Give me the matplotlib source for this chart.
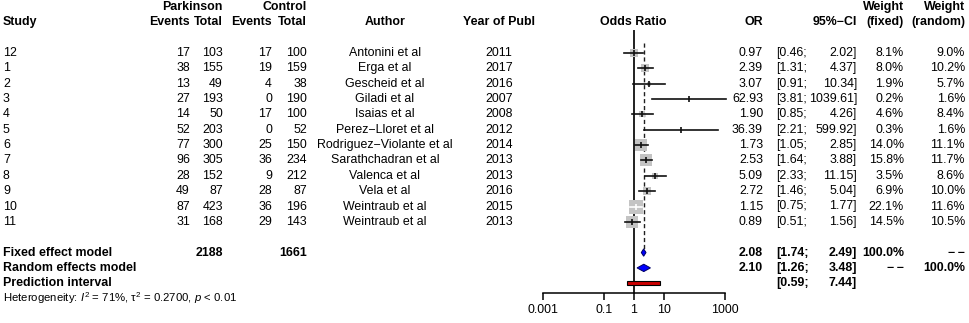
import numpy as np
import matplotlib.pyplot as plt

plt.rcParams['font.family'] = ['Liberation Sans', 'DejaVu Sans']
plt.rcParams['mathtext.fontset'] = 'custom'
plt.rcParams['mathtext.rm'] = 'Liberation Sans'
plt.rcParams['mathtext.it'] = 'Liberation Sans:italic'

# ---- data ----
study = ["12", "1", "2", "3", "4", "5", "6", "7", "8", "9", "10", "11"]
pd_events = [17, 38, 13, 27, 14, 52, 77, 96, 28, 49, 87, 31]
pd_total = [103, 155, 49, 193, 50, 203, 300, 305, 152, 87, 423, 168]
ct_events = [17, 19, 4, 0, 17, 0, 25, 36, 9, 28, 36, 29]
ct_total = [100, 159, 38, 190, 100, 52, 150, 234, 212, 87, 196, 143]
author = ["Antonini et al", "Erga et al", "Gescheid et al", "Giladi et al",
          "Isaias et al", "Perez\u2212Lloret et al", "Rodriguez\u2212Violante et al",
          "Sarathchadran et al", "Valenca et al", "Vela et al",
          "Weintraub et al", "Weintraub et al"]
year = [2011, 2017, 2016, 2007, 2008, 2012, 2014, 2013, 2013, 2016, 2015, 2013]
odds = [0.97, 2.39, 3.07, 62.93, 1.90, 36.39, 1.73, 2.53, 5.09, 2.72, 1.15, 0.89]
lower = [0.46, 1.31, 0.91, 3.81, 0.85, 2.21, 1.05, 1.64, 2.33, 1.46, 0.75, 0.51]
upper = [2.02, 4.37, 10.34, 1039.61, 4.26, 599.92, 2.85, 3.88, 11.15, 5.04, 1.77, 1.56]
w_fixed = [8.1, 8.0, 1.9, 0.2, 4.6, 0.3, 14.0, 15.8, 3.5, 6.9, 22.1, 14.5]
w_random = [9.0, 10.2, 5.7, 1.6, 8.4, 1.6, 11.1, 11.7, 8.6, 10.0, 11.6, 10.5]

fixed_or, fixed_lo, fixed_hi = 2.08, 1.74, 2.49
random_or, random_lo, random_hi = 2.10, 1.26, 3.48
pred_lo, pred_hi = 0.59, 7.44
pd_sum, ct_sum = 2188, 1661

ticks = [0.001, 0.1, 1, 10, 1000]
tick_labels = ["0.001", "0.1", "1", "10", "1000"]

# ---- layout ----
W, H = 969, 323
row0, step = 53, 15.35
ylim = ((H - row0) / step, -row0 / step)
fs = 8.9
dash = "\u2212\u2009\u2212"
fig = plt.figure(figsize=(W / 100, H / 100), dpi=100)
ax = fig.add_axes([0, 0, 1, 1])
ax.set_xlim(0, W)
ax.set_ylim(*ylim)
ax.axis('off')


def txt(x, y, s, ha='right', bold=False, size=fs):
    ax.text(x, y, s, ha=ha, va='center', fontsize=size,
            fontweight='bold' if bold else 'normal')


# headers
txt(223, -3, "Parkinson", bold=True)
txt(307, -3, "Control", bold=True)
txt(904, -3, "Weight", bold=True)
txt(965, -3, "Weight", bold=True)
txt(3, -2, "Study", ha='left', bold=True)
txt(190, -2, "Events", bold=True)
txt(223, -2, "Total", bold=True)
txt(272, -2, "Events", bold=True)
txt(307, -2, "Total", bold=True)
txt(385, -2, "Author", ha='center', bold=True)
txt(499, -2, "Year of Publ", ha='center', bold=True)
txt(633, -2, "Odds Ratio", ha='center', bold=True)
txt(763, -2, "OR", bold=True)
txt(857, -2, "95%\u2212CI", bold=True)
txt(904, -2, "(fixed)", bold=True)
txt(965, -2, "(random)", bold=True)

for i in range(len(study)):
    txt(3, i, study[i], ha='left')
    txt(190, i, str(pd_events[i]))
    txt(223, i, str(pd_total[i]))
    txt(272, i, str(ct_events[i]))
    txt(307, i, str(ct_total[i]))
    txt(385, i, author[i], ha='center')
    txt(499, i, str(year[i]), ha='center')
    txt(763, i, f"{odds[i]:.2f}")
    txt(776, i, f"[{lower[i]:.2f};", ha='left')
    txt(857, i, f"{upper[i]:.2f}]")
    txt(904, i, f"{w_fixed[i]:.1f}%")
    txt(965, i, f"{w_random[i]:.1f}%")

yf, yr, yp, yh = 13, 14, 15, 16
txt(3, yf, "Fixed effect model", ha='left', bold=True)
txt(223, yf, str(pd_sum), bold=True)
txt(307, yf, str(ct_sum), bold=True)
txt(763, yf, f"{fixed_or:.2f}", bold=True)
txt(776, yf, f"[{fixed_lo:.2f};", ha='left', bold=True)
txt(857, yf, f"{fixed_hi:.2f}]", bold=True)
txt(904, yf, "100.0%", bold=True)
txt(965, yf, dash, bold=True)

txt(3, yr, "Random effects model", ha='left', bold=True)
txt(763, yr, f"{random_or:.2f}", bold=True)
txt(776, yr, f"[{random_lo:.2f};", ha='left', bold=True)
txt(857, yr, f"{random_hi:.2f}]", bold=True)
txt(904, yr, dash, bold=True)
txt(965, yr, "100.0%", bold=True)

txt(3, yp, "Prediction interval", ha='left', bold=True)
txt(776, yp, f"[{pred_lo:.2f};", ha='left', bold=True)
txt(857, yp, f"{pred_hi:.2f}]", bold=True)

txt(3, yh, r"Heterogeneity: $I^2$ = 71%, τ$^2$ = 0.2700, $p$ < 0.01",
    ha='left', size=8.2)

# ---- forest panel ----
x0, x1 = 543, 725
fa = fig.add_axes([x0 / W, 0, (x1 - x0) / W, 1])
fa.set_xscale('log')
fa.set_xlim(1e-3, 1e3)
fa.set_ylim(*ylim)
fa.patch.set_visible(False)
for s in ['top', 'left', 'right']:
    fa.spines[s].set_visible(False)
axis_y = (292.5 - row0) / step
fa.spines['bottom'].set_position(('data', axis_y))
fa.spines['bottom'].set_linewidth(1.1)
fa.set_xticks(ticks)
fa.set_xticklabels(tick_labels, fontsize=fs)
fa.minorticks_off()
fa.tick_params(axis='x', direction='out', length=5.2, width=1.1, pad=3)
fa.set_yticks([])

fa.plot([1, 1], [(31 - row0) / step, axis_y], color='#202020', lw=1.4)
fa.plot([fixed_or, fixed_or], [(43 - row0) / step, 12.75], color='#202020',
        lw=1.0, linestyle=(0, (3, 2)))

px_per_dec = (x1 - x0) / 6.0
for i in range(len(study)):
    side = 3.0 * np.sqrt(w_fixed[i])
    fa.scatter([odds[i]], [i], marker='s', s=(side * 0.72) ** 2,
               color='#c4c4c4', linewidths=0, zorder=2, clip_on=False)
    ci_px = px_per_dec * (np.log10(upper[i]) - np.log10(lower[i]))
    col = 'white' if ci_px < 0.85 * side else '#101010'
    fa.plot([lower[i], upper[i]], [i, i], color=col, lw=1.2, zorder=3,
            clip_on=False)
    fa.plot([odds[i]], [i], marker='|', ms=4, mew=1.2, color=col, zorder=4)

dh = 0.24
fa.fill([fixed_lo, fixed_or, fixed_hi, fixed_or],
        [yf, yf - dh, yf, yf + dh], facecolor='blue', edgecolor='#000060',
        lw=0.7, zorder=3)
fa.fill([random_lo, random_or, random_hi, random_or],
        [yr, yr - dh, yr, yr + dh], facecolor='blue', edgecolor='#000060',
        lw=0.7, zorder=3)
ph = 0.14
fa.fill([pred_lo, pred_hi, pred_hi, pred_lo],
        [yp - ph, yp - ph, yp + ph, yp + ph], facecolor='#cc0000',
        edgecolor='black', lw=0.8, zorder=3)

fig.savefig("out.png", dpi=100)
